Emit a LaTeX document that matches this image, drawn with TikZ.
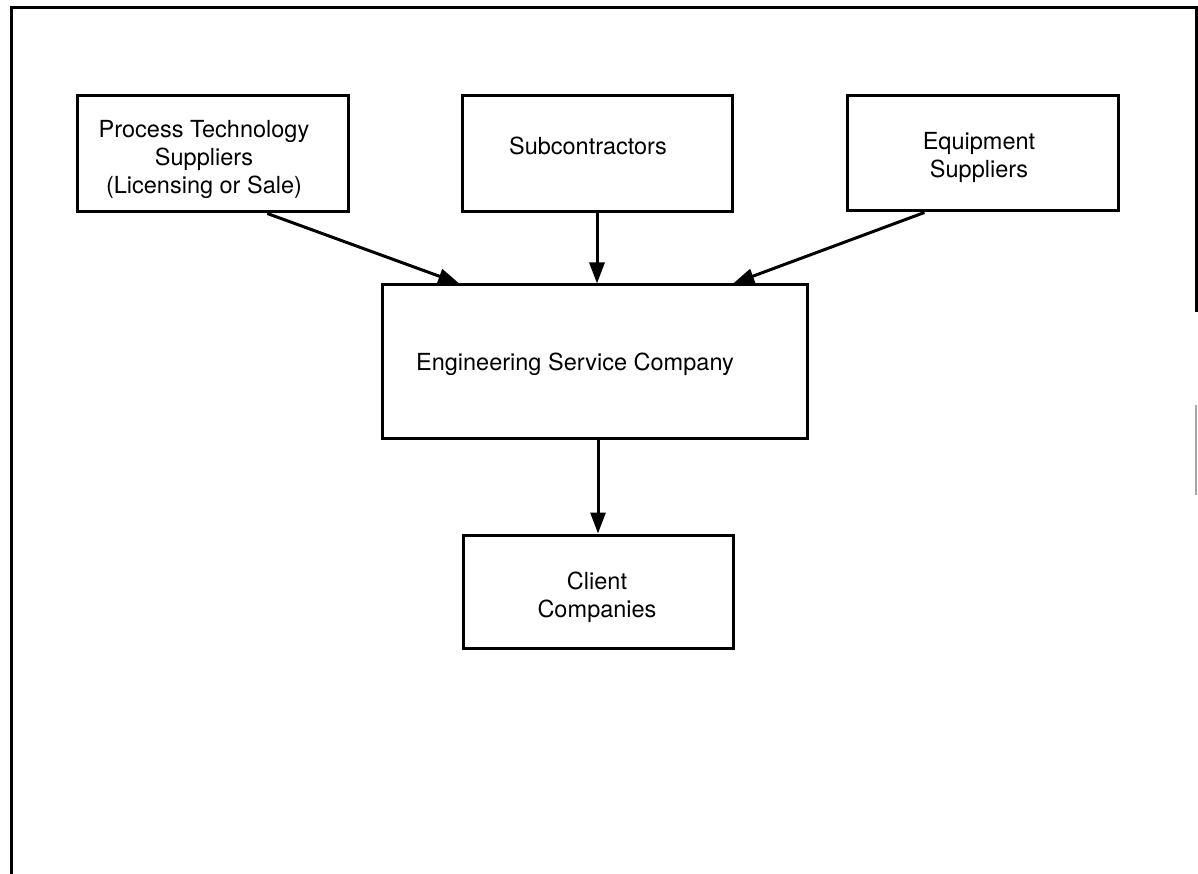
\documentclass[tikz,border=0pt]{standalone}
\usepackage{fontspec}
\setmainfont{TeX Gyre Heros}
\usetikzlibrary{arrows.meta,calc}
\begin{document}
\begin{tikzpicture}[x=1pt,y=-1pt,
  box/.style={draw=black,line width=3pt,minimum width=#1,inner sep=0pt},
  lbl/.style={inner sep=0pt,align=center,font=\fontsize{23.5}{28}\selectfont},
  flow/.style={line width=3pt,-{Triangle[length=21pt,width=15pt]}},
  frame/.style={line width=3pt,line cap=rect}]
\useasboundingbox (0,0) rectangle (1198,874);
% outer frame
\draw[frame] (11,874) -- (11,8) -- (1196,8) -- (1196,310);
\draw[line width=1.5pt,black!35] (1196,405) -- (1196,495);
% boxes
\node[box=271pt,minimum height=116pt] (pts) at (212.5,154) {};
\node[box=270pt,minimum height=116pt] (sub) at (597,154) {};
\node[box=271pt,minimum height=115pt] (eq)  at (982.5,153.5) {};
\node[box=425pt,minimum height=153pt] (esc) at (594.5,361.5) {};
\node[box=270pt,minimum height=113pt] (cli) at (598,591.5) {};
% labels
\node[lbl] (tpts) at (204,159) {Process Technology\\Suppliers\\(Licensing or Sale)};
\node[lbl,anchor=base] (tsub) at (588,155) {Subcontractors};
\node[lbl] (teq) at (979,157.5) {Equipment\\Suppliers};
\node[lbl,anchor=base] (tesc) at (575,370) {Engineering Service Company};
\node[lbl] (tcli) at (597,597) {Client\\Companies};
% connectors
\coordinate (ptsout) at ($(pts.south west)!0.70!(pts.south east)$);
\coordinate (escin1) at ($(esc.north west)!0.184!(esc.north east)$);
\coordinate (eqout) at ($(eq.south west)!0.288!(eq.south east)$);
\coordinate (escin3) at ($(esc.north west)!0.824!(esc.north east)$);
\draw[flow] (ptsout) -- (escin1);
\draw[flow] (sub.south) -- (sub.south |- esc.north);
\draw[flow] (eqout) -- (escin3);
\draw[flow] (cli.north |- esc.south) -- (cli.north);
\end{tikzpicture}
\end{document}
